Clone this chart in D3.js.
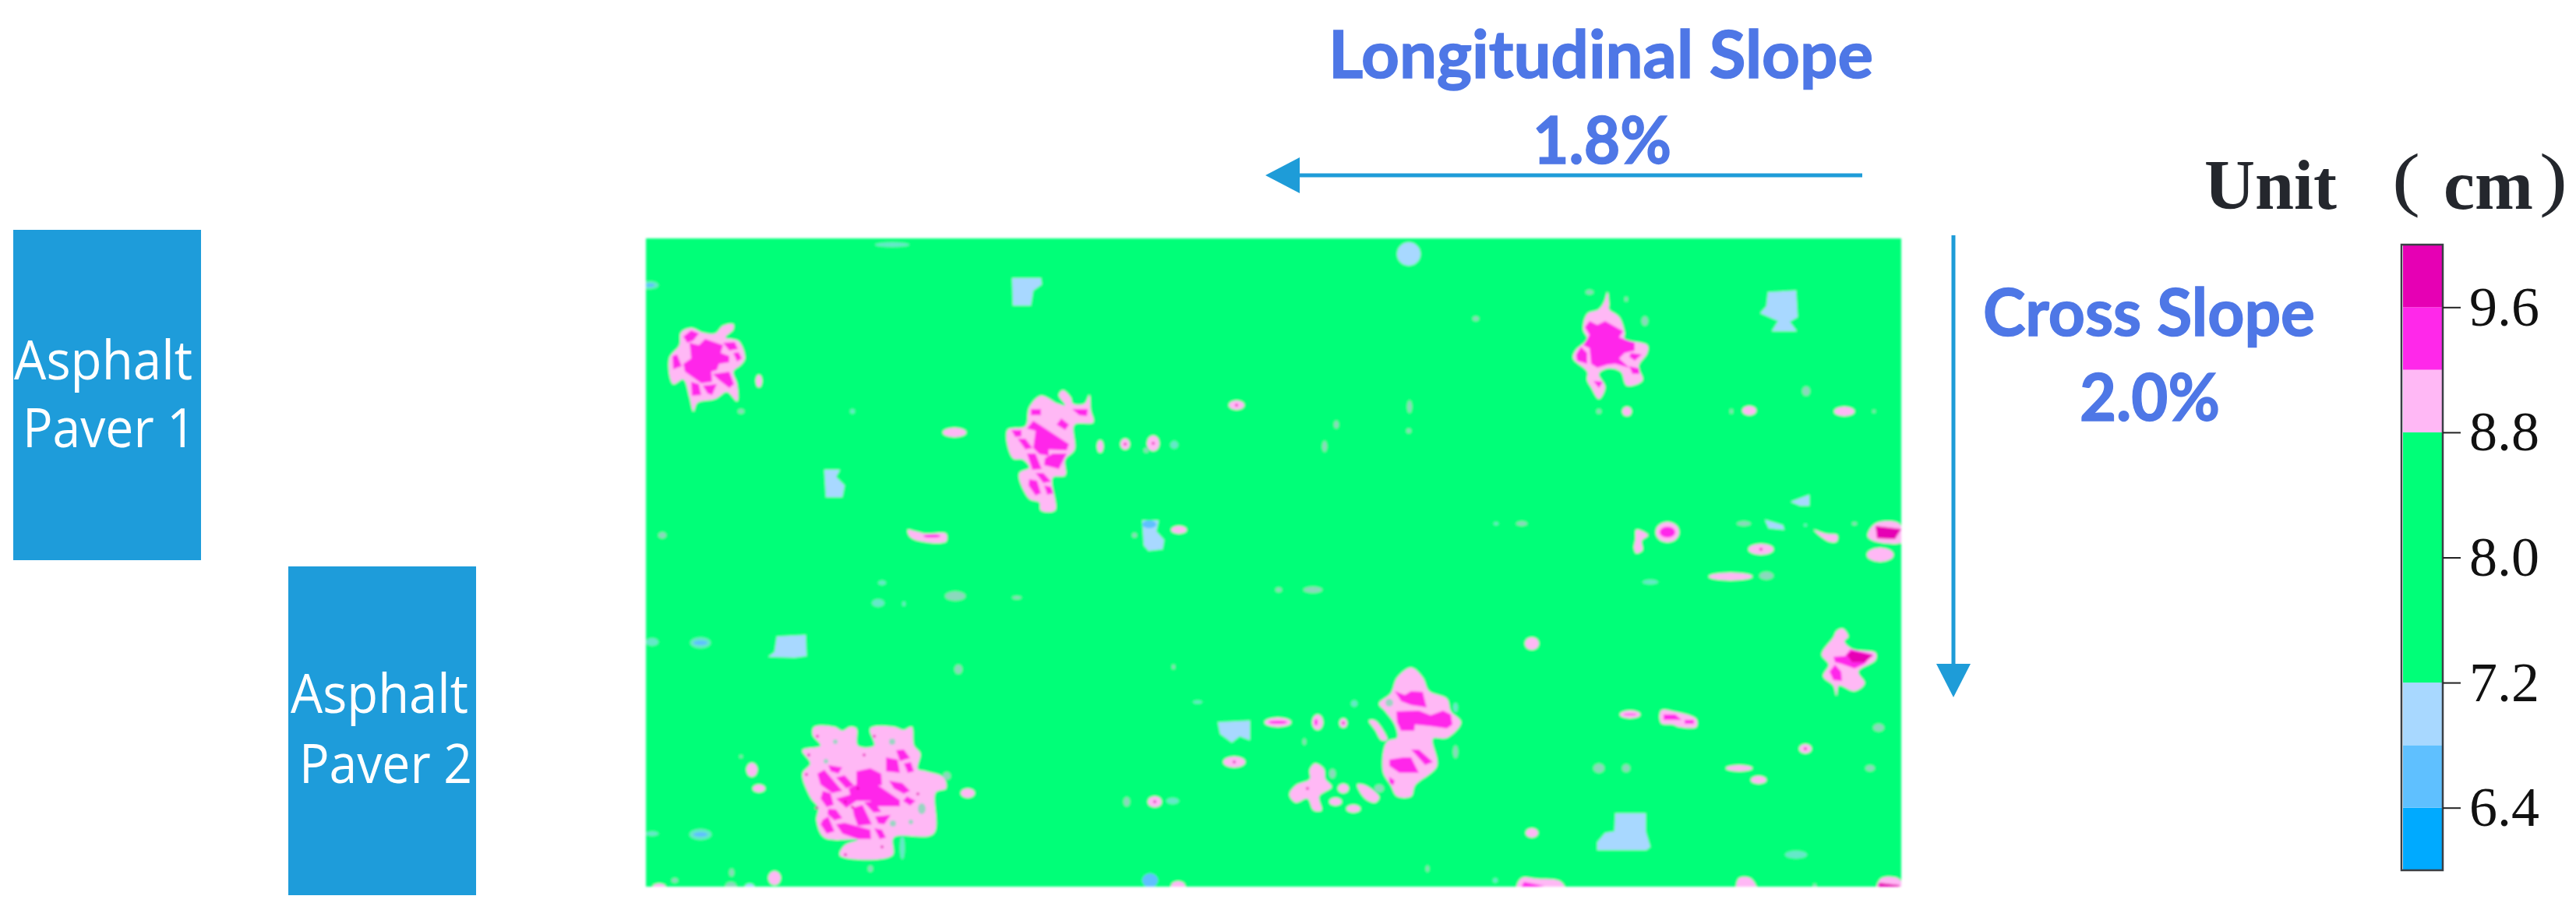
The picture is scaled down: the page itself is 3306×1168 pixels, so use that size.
<!DOCTYPE html>
<html>
<head>
<meta charset="utf-8">
<script src="https://cdn.jsdelivr.net/npm/d3@7"></script>
<style>
  html, body { margin: 0; padding: 0; background: #fff; }
  svg { display: block; }
</style>
</head>
<body>
<div class="canvas"></div>
<script>
// colour bands (cm)
const bandEdges = [6.0, 6.4, 6.8, 7.2, 8.8, 9.2, 9.6, 10.0];
const bandColors = ["#00aaff", "#5fc0ff", "#a8d8ff", "#00ff78", "#ffb8f5", "#ff28ea", "#e600b4"];
const barTicks = [6.4, 7.2, 8.0, 8.8, 9.6];

// contour patches, x/y in map units from the top left corner
const patches92 = [
  [[45,121],[58,115],[73,121],[89,122],[99,112],[112,110],[112,117],[102,127],[119,132],[127,154],[122,162],[112,171],[117,187],[117,209],[104,197],[89,206],[66,211],[61,222],[56,204],[48,181],[35,187],[30,154],[43,137]],
  [[507,202],[528,212],[538,214],[530,201],[535,195],[545,204],[548,212],[563,212],[569,201],[571,221],[574,236],[550,239],[550,271],[538,284],[538,304],[522,307],[525,349],[507,349],[505,339],[492,334],[479,302],[492,294],[484,284],[471,282],[464,246],[487,241],[492,217]],
  [[1234,69],[1236,84],[1236,91],[1249,101],[1256,121],[1256,129],[1285,137],[1285,147],[1274,164],[1279,182],[1259,189],[1251,171],[1234,167],[1223,174],[1231,191],[1223,206],[1213,191],[1208,182],[1208,171],[1190,154],[1193,144],[1208,129],[1203,117],[1208,97],[1223,91],[1230,81]],
  [[216,627],[242,627],[252,632],[262,627],[270,629],[272,651],[293,651],[288,629],[318,627],[331,631],[341,627],[344,651],[352,661],[349,681],[359,684],[382,692],[385,706],[372,711],[369,764],[318,769],[316,792],[249,792],[255,779],[272,772],[229,769],[219,747],[221,731],[211,717],[201,687],[211,674],[201,657],[224,651],[214,637]],
  [[982,551],[997,564],[1005,581],[1028,591],[1033,607],[1046,621],[1028,641],[1010,642],[1015,677],[987,702],[982,716],[964,716],[956,702],[946,684],[951,646],[964,641],[961,624],[949,607],[941,597],[956,584],[964,564]],
  [[859,674],[870,681],[872,694],[880,704],[864,716],[867,734],[857,734],[849,719],[834,724],[826,714],[834,702],[852,694],[852,682]],
  [[1536,501],[1543,511],[1538,517],[1548,527],[1578,532],[1578,541],[1556,556],[1564,571],[1551,581],[1531,574],[1528,587],[1524,574],[1511,562],[1518,547],[1509,534],[1524,512],[1528,504]],
  [[336,374],[346,376],[359,379],[385,379],[385,389],[354,389],[339,383]],
  [[1271,374],[1286,381],[1278,388],[1279,400],[1271,404],[1268,397],[1270,386]],
  [[1499,374],[1514,379],[1529,381],[1528,389],[1518,389]],
  [[1303,606],[1323,608],[1348,617],[1348,627],[1326,627],[1318,624],[1303,622]],
  [[1568,382],[1578,366],[1608,366],[1613,389],[1578,389]],
  [[928,619],[936,619],[951,641],[951,644],[944,644],[936,631]],
  [[913,701],[923,702],[941,717],[936,724],[923,719]],
  [[1118,834],[1124,821],[1144,822],[1173,825],[1179,834]],
  [[1400,834],[1403,821],[1417,821],[1425,834]],
  [[1580,834],[1586,821],[1608,822],[1613,834]]
];
const patches96 = [
  [[56,134],[68,137],[76,129],[99,137],[96,147],[107,151],[107,159],[94,161],[91,169],[84,171],[85,184],[71,186],[50,171],[48,161],[58,154]],
  [[48,126],[58,118],[68,122],[61,131],[53,134]],
  [[99,134],[114,133],[118,142],[107,144]],
  [[112,147],[119,146],[123,154],[117,158]],
  [[34,151],[40,149],[46,164],[35,168]],
  [[86,174],[107,171],[113,187],[107,192],[94,182]],
  [[58,184],[68,187],[71,201],[59,202]],
  [[73,189],[91,187],[85,201],[79,199]],
  [[497,234],[505,239],[543,264],[540,272],[517,271],[517,279],[505,277],[497,269],[500,247],[489,244]],
  [[494,219],[507,219],[507,227],[494,227]],
  [[547,219],[567,219],[566,228],[556,227]],
  [[533,231],[543,239],[538,246],[527,239]],
  [[469,246],[482,246],[482,254],[474,255]],
  [[477,257],[487,257],[496,269],[487,271]],
  [[489,276],[500,276],[508,296],[496,297]],
  [[522,276],[540,276],[530,296],[511,291],[512,282]],
  [[500,301],[510,301],[520,312],[510,314]],
  [[492,309],[502,311],[507,327],[500,330],[491,317]],
  [[511,317],[520,319],[523,327],[515,329]],
  [[1211,106],[1221,111],[1231,106],[1254,119],[1249,127],[1269,134],[1269,144],[1256,147],[1249,154],[1262,166],[1244,161],[1234,162],[1221,166],[1213,161],[1211,141],[1203,137],[1211,124],[1205,114]],
  [[1200,139],[1208,147],[1208,161],[1195,157],[1194,149]],
  [[1264,147],[1278,149],[1269,157],[1262,152]],
  [[1262,164],[1275,167],[1275,174],[1266,174]],
  [[1216,183],[1228,184],[1223,192]],
  [[321,657],[331,656],[339,667],[326,671]],
  [[308,666],[323,669],[326,686],[308,684]],
  [[331,674],[340,672],[344,684],[336,686]],
  [[234,676],[252,679],[247,687],[237,684]],
  [[220,687],[229,682],[252,709],[239,712],[224,701]],
  [[244,692],[255,689],[267,702],[257,706]],
  [[270,684],[288,680],[302,687],[303,702],[298,702],[326,721],[326,729],[298,729],[288,722],[270,722],[257,731],[244,719],[262,714],[260,706],[270,701]],
  [[312,696],[329,699],[339,709],[331,713],[318,706]],
  [[335,716],[346,722],[339,728],[330,722]],
  [[227,709],[237,712],[241,727],[232,730],[224,719]],
  [[265,731],[278,727],[290,752],[272,754],[267,741]],
  [[280,724],[293,722],[302,736],[292,737]],
  [[234,732],[244,733],[252,744],[242,747],[233,739]],
  [[294,742],[314,740],[306,752],[298,751]],
  [[227,746],[234,742],[242,761],[232,764],[224,752]],
  [[244,752],[255,750],[288,759],[289,771],[272,771],[252,764]],
  [[293,757],[303,759],[308,769],[300,771]],
  [[961,581],[974,586],[982,581],[997,582],[1002,602],[982,599],[969,594]],
  [[963,607],[992,606],[1007,612],[1023,606],[1033,611],[1035,624],[1028,629],[1007,626],[987,624],[986,632],[969,632],[964,621]],
  [[982,656],[992,656],[1010,672],[1000,676]],
  [[954,669],[972,666],[982,666],[992,686],[967,686],[954,677]],
  [[954,691],[961,696],[959,702],[954,699]],
  [[1306,611],[1321,611],[1329,618],[1318,618],[1306,618]],
  [[1333,618],[1345,618],[1345,623],[1333,623]],
  [[1524,537],[1539,536],[1546,527],[1574,534],[1564,546],[1551,552],[1534,546],[1526,544]],
  [[1519,556],[1526,547],[1534,556],[1535,568],[1524,567]],
  [[1122,834],[1127,826],[1153,831]]
];
const patches100 = [
  [[1578,369],[1611,373],[1603,386],[1580,385]],
  [[1541,534],[1548,530],[1575,535],[1564,544],[1548,544]],
  [[1580,834],[1583,827],[1608,830],[1611,834]]
];
const patches72 = [
  [[470,51],[507,51],[508,59],[497,67],[494,86],[471,86]],
  [[229,297],[249,297],[244,306],[255,317],[252,332],[231,332]],
  [[637,362],[658,362],[655,376],[665,387],[663,399],[645,401],[639,394]],
  [[1440,69],[1476,67],[1478,101],[1468,107],[1477,119],[1445,119],[1453,106],[1430,96],[1438,87]],
  [[1469,338],[1493,329],[1493,343],[1481,343]],
  [[1436,361],[1459,368],[1461,374],[1441,372]],
  [[1244,738],[1283,738],[1283,761],[1289,781],[1284,785],[1221,785],[1221,775],[1231,763],[1243,761]],
  [[168,511],[205,509],[206,536],[191,538],[157,537],[165,531]],
  [[734,621],[775,619],[775,644],[762,639],[752,647],[737,636]]
];

// small round spots: x, y, half width, half height
const spots92 = [
  [145,183,4,8],[396,249,15,6],[583,267,4,8],[615,264,6,7],[651,263,8,10],[684,374,10,5],[758,214,10,6],
  [1259,222,6,6],[1416,221,9,6],[1538,222,13,6],[1311,377,15,13],[1431,399,16,7],[1392,434,28,5],
  [1263,611,13,5],[1403,680,17,4],[1428,695,10,5],[1488,655,8,6],[1584,406,17,9],[653,723,9,7],
  [811,621,17,6],[862,621,7,10],[895,622,5,6],[755,672,14,7],[1137,520,9,8],[895,706,7,6],[885,723,8,5],
  [908,732,9,5],[1137,763,8,6],[413,712,9,6],[136,682,7,9],[145,706,8,5],[165,821,8,9],[17,831,8,3],[683,831,9,6]
];
const faintSpots92 = [
  [122,222,4,3],[21,381,5,4],[642,272,3,3],[627,381,3,3],[1211,69,5,3],[1258,78,2,3],[1282,106,4,6],[1065,103,4,3],
  [980,216,3,8],[886,239,3,5],[979,247,3,3],[871,267,3,7],[1223,222,3,3],[1393,222,2,3],[1489,196,5,6],[1576,222,2,2],
  [1124,366,7,3],[1409,366,9,3],[1438,433,9,5],[1223,680,7,6],[1258,680,5,5],[1582,628,7,5],[1571,680,6,4],[1551,366,3,2],
  [397,459,13,6],[476,461,6,2],[401,553,5,6],[677,550,2,3],[122,665,2,2],[386,690,5,5],[617,723,4,6],[812,451,4,3],[856,451,12,4],
  [845,646,2,4],[881,687,4,6],[941,706,6,5],[1039,659,3,8],[110,814,3,5],[37,824,4,3],[288,809,3,4],[109,831,7,5],[1003,809,2,4],[1500,831,2,3]
];
const faintSpots72 = [
  [316,8,22,3],[5,60,11,5],[265,222,3,3],[678,265,5,5],[1091,366,3,2],[1289,441,10,3],[1488,368,2,2],[1476,791,14,5],
  [303,442,5,3],[298,468,8,5],[331,469,2,3],[8,518,8,5],[708,595,6,2],[676,722,8,4],[8,764,8,3],[329,782,3,15],
  [909,597,4,4],[1039,602,3,6],[1090,824,3,3],[70,519,13,7],[70,765,14,7]
];
const spots72 = [[979,20,15,15],[133,832,6,4]];
const spots68 = [[646,367,9,5],[70,519,9,3],[70,765,9,3],[647,824,10,9],[5,60,6,2]];
const spots96 = [[1311,377,10,7],[367,382,11,2],[811,621,12,2],[860,621,2,4],[1263,611,8,1]];
const dots100 = [
  [220,639],[293,639],[209,663],[280,663],[206,688],[349,713],[219,731],[303,781],[256,791],[272,706],[256,723],[265,730],
  [615,264],[651,263],[758,214],[653,723],[895,622],[755,672],[849,706],[1431,399],[1488,655]
];
// green holes inside the pink patches
const holes = [[243,646,3,3],[316,646,4,4],[231,671,3,3],[354,732,5,7],[317,751,4,4],[340,749,3,3],[954,596,5,5]];

// dimensions
const dims = { width: 3306, height: 1168 };
const map = { left: 829, right: 2440, top: 306, bottom: 1138 };
const bar = { left: 3082, right: 3135, top: 314, bottom: 1117 };

const svg = d3
  .select(".canvas")
  .append("svg")
  .attr("width", dims.width)
  .attr("height", dims.height);

const defs = svg.append("defs");
defs.append("filter").attr("id", "soft")
  .attr("x", "-2%").attr("y", "-2%").attr("width", "104%").attr("height", "104%")
  .append("feGaussianBlur").attr("stdDeviation", 1.5);
defs.append("clipPath").attr("id", "mapClip").append("rect")
  .attr("x", map.left).attr("y", map.top)
  .attr("width", map.right - map.left).attr("height", map.bottom - map.top);

// scales
const x = d3.scaleLinear().domain([0, 1611]).range([map.left, map.right]);
const y = d3.scaleLinear().domain([0, 832]).range([map.top, map.bottom]);
const color = d3.scaleThreshold().domain(bandEdges.slice(1, -1)).range(bandColors);
const barY = d3.scaleLinear().domain([6, 10]).range([bar.bottom, bar.top]);

const rounded = d3.line().x(d => x(d[0])).y(d => y(d[1])).curve(d3.curveCatmullRomClosed.alpha(0.5));
const sharp = d3.line().x(d => x(d[0])).y(d => y(d[1])).curve(d3.curveLinearClosed);

// the map
const graph = svg.append("g").attr("filter", "url(#soft)");
graph.append("rect")
  .attr("x", x(0)).attr("y", y(0))
  .attr("width", x(1611) - x(0)).attr("height", y(832) - y(0))
  .attr("fill", color(8));

const layer = graph.append("g").attr("clip-path", "url(#mapClip)");

const drawSpots = (data, value, opacity = 1) => {
  layer.append("g").selectAll("ellipse").data(data).enter().append("ellipse")
    .attr("cx", d => x(d[0])).attr("cy", d => y(d[1]))
    .attr("rx", d => x(d[2]) - x(0)).attr("ry", d => y(d[3]) - y(0))
    .attr("fill", color(value))
    .attr("fill-opacity", opacity);
};
const drawPatches = (data, value, line) => {
  layer.append("g").selectAll("path").data(data).enter().append("path")
    .attr("d", line)
    .attr("fill", color(value));
};

drawSpots(faintSpots72, 7.0, 0.6);
drawSpots(faintSpots92, 9.0, 0.55);
drawPatches(patches72, 7.0, sharp);
drawSpots(spots72, 7.0);
drawSpots(spots68, 6.6);
drawPatches(patches92, 9.0, rounded);
drawSpots(spots92, 9.0);
drawSpots(holes, 8.0, 0.4);
drawPatches(patches96, 9.4, sharp);
drawSpots(spots96, 9.4);
drawPatches(patches100, 9.8, sharp);
layer.append("g").selectAll("circle").data(dots100).enter().append("circle")
  .attr("cx", d => x(d[0])).attr("cy", d => y(d[1])).attr("r", 1.8)
  .attr("fill", color(9.8));

// colour bar
const legend = svg.append("g");
legend.selectAll("rect").data(bandColors).enter().append("rect")
  .attr("x", bar.left + 2)
  .attr("y", (d, i) => barY(bandEdges[i + 1]))
  .attr("width", bar.right - bar.left - 3)
  .attr("height", (d, i) => barY(bandEdges[i]) - barY(bandEdges[i + 1]))
  .attr("fill", d => d);
legend.append("rect")
  .attr("x", bar.left).attr("y", bar.top)
  .attr("width", bar.right - bar.left).attr("height", bar.bottom - bar.top)
  .attr("fill", "none").attr("stroke", "#3a3f45").attr("stroke-width", 2.5);

const barAxis = d3.axisRight(barY).tickValues(barTicks).tickSize(23).tickPadding(11).tickFormat(d3.format(".1f"));
const axisG = svg.append("g").attr("transform", `translate(${bar.right}, 0)`).call(barAxis);
axisG.select(".domain").remove();
axisG.selectAll("line").attr("stroke", "#222").attr("stroke-width", 2);
axisG.selectAll("text")
  .attr("fill", "#111")
  .attr("font-family", "'Liberation Serif', serif")
  .attr("font-size", 72);

// unit title
const unit = svg.append("g").attr("fill", "#24272d")
  .attr("font-family", "'Liberation Serif', serif").attr("font-size", 90);
unit.append("text").attr("x", 2829).attr("y", 268).attr("font-weight", 700).text("Unit");
unit.append("text").attr("x", 3136).attr("y", 268).attr("font-weight", 700).text("cm");
unit.append("text").attr("x", 3070).attr("y", 260).attr("textLength", 36).attr("lengthAdjust", "spacingAndGlyphs").text("(");
unit.append("text").attr("x", 3259).attr("y", 260).attr("textLength", 36).attr("lengthAdjust", "spacingAndGlyphs").text(")");

// slope labels
const slopeLabels = [
  { text: "Longitudinal Slope", x: 1705, y: 100, w: 699 },
  { text: "1.8%", x: 1967, y: 210, w: 178 },
  { text: "Cross Slope", x: 2545, y: 431, w: 426 },
  { text: "2.0%", x: 2669, y: 540, w: 180 }
];
svg.append("g").selectAll("text").data(slopeLabels).enter().append("text")
  .attr("x", d => d.x).attr("y", d => d.y)
  .attr("textLength", d => d.w).attr("lengthAdjust", "spacingAndGlyphs")
  .attr("font-family", "Lato, sans-serif").attr("font-weight", 700).attr("font-size", 84)
  .attr("fill", "#4e77e6")
  .attr("stroke", "#4e77e6").attr("stroke-width", 1.5)
  .text(d => d.text);

// slope arrows
const arrowColor = "#1e9cd8";
svg.append("line").attr("x1", 2390).attr("x2", 1660).attr("y1", 225).attr("y2", 225)
  .attr("stroke", arrowColor).attr("stroke-width", 5);
svg.append("path").attr("d", "M1624,225L1668,202L1668,248Z").attr("fill", arrowColor);
svg.append("line").attr("x1", 2507).attr("x2", 2507).attr("y1", 302).attr("y2", 860)
  .attr("stroke", arrowColor).attr("stroke-width", 5);
svg.append("path").attr("d", "M2507,895L2485,852L2529,852Z").attr("fill", arrowColor);

// paver boxes
const pavers = [
  { x: 17, y: 295, w: 241, h: 424, lines: [
    { text: "Asphalt", x: 18, y: 487, w: 229 }, { text: "Paver 1", x: 29, y: 574, w: 222 } ] },
  { x: 370, y: 727, w: 241, h: 422, lines: [
    { text: "Asphalt", x: 373, y: 915, w: 228 }, { text: "Paver 2", x: 384, y: 1005, w: 222 } ] }
];
const paverG = svg.append("g").selectAll("g").data(pavers).enter().append("g");
paverG.append("rect")
  .attr("x", d => d.x).attr("y", d => d.y)
  .attr("width", d => d.w).attr("height", d => d.h)
  .attr("fill", "#1e9cda");
paverG.selectAll("text").data(d => d.lines).enter().append("text")
  .attr("x", d => d.x).attr("y", d => d.y)
  .attr("textLength", d => d.w).attr("lengthAdjust", "spacingAndGlyphs")
  .attr("font-family", "'Open Sans', sans-serif").attr("font-size", 70)
  .attr("fill", "#fff")
  .text(d => d.text);
</script>
</body>
</html>
